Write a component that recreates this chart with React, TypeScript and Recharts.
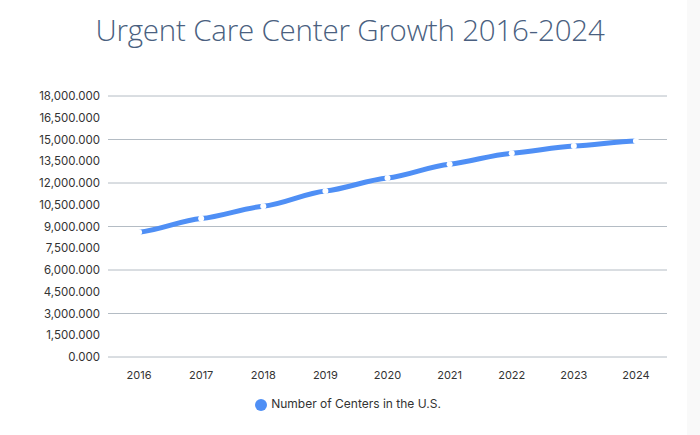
import React from 'react';
import { LineChart, Line, XAxis, YAxis, CartesianGrid, Legend } from 'recharts';

const years = ['2016', '2017', '2018', '2019', '2020', '2021', '2022', '2023', '2024'];
const centers = [8600, 9550, 10400, 11450, 12350, 13300, 14050, 14550, 14900];
const yTicks = [0, 1500, 3000, 4500, 6000, 7500, 9000, 10500, 12000, 13500, 15000, 16500, 18000];
const yearIdx = [0, 1, 2, 3, 4, 5, 6, 7, 8];
const bandEdges = [-0.5, 0.5, 1.5, 2.5, 3.5, 4.5, 5.5, 6.5, 7.5, 8.5];

const data = years.map((y, i) => ({ idx: i, year: y, centers: centers[i] }));

const fmt = (v: number) => v.toLocaleString('en-US', { minimumFractionDigits: 3, maximumFractionDigits: 3 });

// spline with damped tangents: a bit flatter at each point than monotone
const softCurve = (k: number) => (ctx: any) => {
  let xs: number[] = [];
  let ys: number[] = [];
  return {
    areaStart() {},
    areaEnd() {},
    lineStart() {
      xs = [];
      ys = [];
    },
    point(x: number, y: number) {
      xs.push(+x);
      ys.push(+y);
    },
    lineEnd() {
      const n = xs.length;
      if (!n) return;
      ctx.moveTo(xs[0], ys[0]);
      const m = xs.map((_, i) => {
        const a = Math.max(0, i - 1);
        const b = Math.min(n - 1, i + 1);
        return b > a ? (k * (ys[b] - ys[a])) / (xs[b] - xs[a]) : 0;
      });
      for (let i = 0; i < n - 1; i++) {
        const dx = xs[i + 1] - xs[i];
        ctx.bezierCurveTo(
          xs[i] + dx / 3,
          ys[i] + (m[i] * dx) / 3,
          xs[i + 1] - dx / 3,
          ys[i + 1] - (m[i + 1] * dx) / 3,
          xs[i + 1],
          ys[i + 1]
        );
      }
    },
  };
};

export default function App() {
  return (
    <div style={{ position: 'relative', width: 700, height: 435, background: '#f9f9f9' }}>
      <style>{'body{margin:0}'}</style>
      <div style={{ position: 'absolute', left: 0, top: 0, width: 687, height: 435, background: '#fff' }} />
      <div
        style={{
          position: 'absolute',
          top: 9,
          left: 0,
          width: 700,
          textAlign: 'center',
          fontFamily: '"Open Sans", sans-serif',
          fontWeight: 300,
          fontSize: 29.5,
          color: '#4a5f80',
          letterSpacing: -0.2,
        }}
      >
        Urgent Care Center Growth 2016-2024
      </div>
      <div style={{ position: 'absolute', top: 0, left: 0 }}>
        <LineChart width={700} height={435} data={data} margin={{ top: 96, right: 33, left: 0, bottom: 48 }}>
          <CartesianGrid horizontal vertical={false} stroke="#b4bcc4" strokeWidth={1} />
          <XAxis
            xAxisId={0}
            type="number"
            dataKey="idx"
            domain={[-0.5, 8.5]}
            ticks={bandEdges}
            tick={false}
            axisLine={false}
            tickLine={{ stroke: '#c8ccd0' }}
            tickSize={7}
            height={0}
            allowDataOverflow
          />
          <XAxis
            xAxisId="yr"
            type="number"
            dataKey="idx"
            domain={[-0.5, 8.5]}
            ticks={yearIdx}
            tickFormatter={(i: number) => years[i]}
            axisLine={false}
            tickLine={false}
            tickSize={6}
            tickMargin={8}
            height={30}
            tick={{ fontSize: 11, fill: '#333', fontFamily: 'Inter, sans-serif' }}
          />
          <YAxis
            domain={[0, 18000]}
            ticks={yTicks}
            tickFormatter={fmt}
            axisLine={false}
            tickLine={false}
            tickSize={0}
            tickMargin={8}
            width={108}
            tick={{ fontSize: 11.5, fill: '#333', fontFamily: 'Inter, sans-serif' }}
          />
          <Legend
            verticalAlign="middle"
            iconType="circle"
            iconSize={12}
            wrapperStyle={{ top: 396, left: 3, width: 700, fontFamily: 'Inter, sans-serif', fontSize: 12 }}
            formatter={(value: string) => <span style={{ color: '#333' }}>{value}</span>}
          />
          <Line
            xAxisId="yr"
            type={softCurve(0.45) as any}
            dataKey="centers"
            name="Number of Centers in the U.S."
            stroke="#4f8ff5"
            strokeWidth={5}
            dot={{ r: 3, fill: '#fff', stroke: 'none' }}
            activeDot={false}
            isAnimationActive={false}
          />
        </LineChart>
      </div>
    </div>
  );
}
